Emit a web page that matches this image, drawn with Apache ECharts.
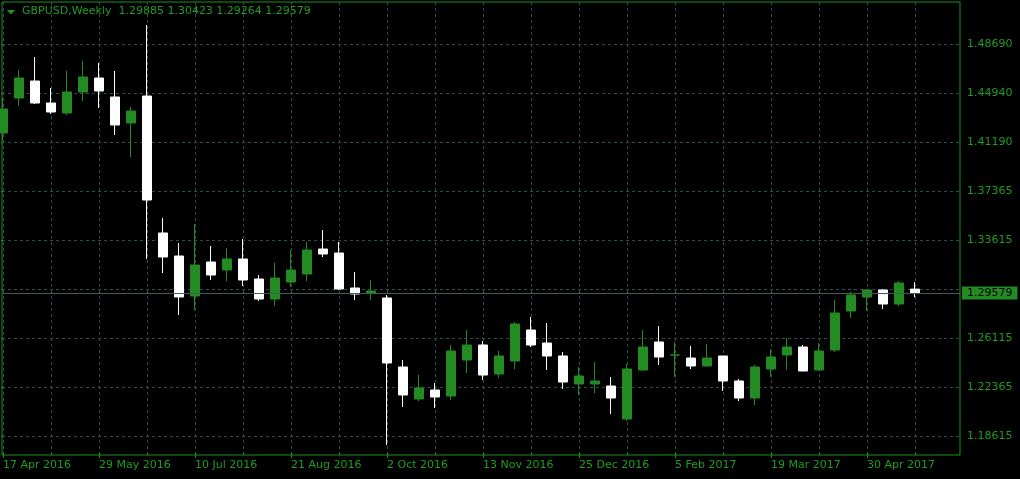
<!DOCTYPE html>
<html><head><meta charset="utf-8">
<script src="https://cdn.jsdelivr.net/npm/echarts@6/dist/echarts.min.js"></script>
<style>html,body{margin:0;padding:0;background:#000}#c{width:1020px;height:479px}</style>
</head><body><div id="c"></div>
<script>
const symbolName = 'GBPUSD';
const timeframe = 'Weekly';
const weeks = ['2016-04-17','2016-04-24','2016-05-01','2016-05-08','2016-05-15','2016-05-22','2016-05-29','2016-06-05','2016-06-12','2016-06-19',
  '2016-06-26','2016-07-03','2016-07-10','2016-07-17','2016-07-24','2016-07-31','2016-08-07','2016-08-14','2016-08-21','2016-08-28',
  '2016-09-04','2016-09-11','2016-09-18','2016-09-25','2016-10-02','2016-10-09','2016-10-16','2016-10-23','2016-10-30','2016-11-06',
  '2016-11-13','2016-11-20','2016-11-27','2016-12-04','2016-12-11','2016-12-18','2016-12-25','2017-01-01','2017-01-08','2017-01-15',
  '2017-01-22','2017-01-29','2017-02-05','2017-02-12','2017-02-19','2017-02-26','2017-03-05','2017-03-12','2017-03-19','2017-03-26',
  '2017-04-02','2017-04-09','2017-04-16','2017-04-23','2017-04-30','2017-05-07','2017-05-14','2017-05-21'];
const opens = [1.41862,1.44547,1.45851,1.44163,1.43396,1.45007,1.46082,1.44624,1.42629,1.44700,
  1.34190,1.32425,1.29356,1.31965,1.31351,1.32195,1.30660,1.29126,1.30430,1.31044,
  1.32962,1.32655,1.29970,1.29586,1.29203,1.23909,1.21454,1.22144,1.21684,1.24446,
  1.25597,1.23372,1.24369,1.26748,1.25750,1.24753,1.22605,1.22605,1.22451,1.19919,
  1.23679,1.25827,1.24830,1.24599,1.23986,1.24753,1.22835,1.21530,1.23755,1.24830,
  1.25443,1.23679,1.25213,1.28205,1.29279,1.29816,1.28742,1.29885];
const closes = [1.43703,1.46082,1.44163,1.43473,1.45007,1.46158,1.45084,1.42476,1.43550,1.36721,
  1.32348,1.29279,1.31734,1.30967,1.32195,1.30584,1.29126,1.30737,1.31351,1.32885,
  1.32578,1.29893,1.29510,1.29740,1.24216,1.21761,1.22298,1.21607,1.25136,1.25597,
  1.23295,1.24753,1.27208,1.25597,1.24753,1.22758,1.23218,1.22835,1.21530,1.23755,
  1.25443,1.24676,1.24830,1.23986,1.24599,1.22835,1.21530,1.23909,1.24676,1.25443,
  1.23602,1.25136,1.28052,1.29433,1.29816,1.28742,1.30353,1.29579];
const lows = [1.41271,1.43933,1.44087,1.43320,1.43243,1.44317,1.43780,1.41708,1.40020,1.32195,
  1.31121,1.27898,1.28282,1.30584,1.30507,1.30123,1.28972,1.28589,1.30047,1.30507,
  1.32348,1.29816,1.29049,1.29049,1.17925,1.20840,1.21300,1.20763,1.21377,1.23448,
  1.22911,1.23065,1.23755,1.25443,1.23679,1.22221,1.21761,1.21914,1.20303,1.19766,
  1.23602,1.24062,1.23142,1.23755,1.23909,1.22068,1.21300,1.20993,1.23142,1.23679,
  1.23602,1.23602,1.25060,1.27668,1.28205,1.28359,1.28589,1.29264];
const highs = [1.44547,1.46695,1.47693,1.45314,1.46619,1.47386,1.47232,1.46619,1.43857,1.50148,
  1.35340,1.33422,1.34880,1.33192,1.33039,1.33729,1.30967,1.31888,1.32885,1.33499,
  1.34420,1.33499,1.31197,1.30584,1.29433,1.24446,1.23295,1.22681,1.25597,1.26748,
  1.25904,1.25136,1.27361,1.27745,1.27285,1.25060,1.23909,1.24292,1.23142,1.24139,
  1.26748,1.27054,1.25827,1.25520,1.25673,1.24753,1.22988,1.24062,1.25290,1.26134,
  1.25597,1.25750,1.29049,1.29663,1.29893,1.29893,1.30507,1.30423];
// grid levels; the 1.29865 level's label is hidden behind the current-price box
const yTickValues = [1.48690,1.44940,1.41190,1.37365,1.33615,1.29865,1.26115,1.22365,1.18615];
const yLabelValues = [1.48690,1.44940,1.41190,1.37365,1.33615,1.26115,1.22365,1.18615];
const yTickLabels = ['1.48690','1.44940','1.41190','1.37365','1.33615','1.26115','1.22365','1.18615'];
const xLabelIndex = [0,6,12,18,24,30,36,42,48,54];
const xLabels = ['17 Apr 2016','29 May 2016','10 Jul 2016','21 Aug 2016','2 Oct 2016','13 Nov 2016','25 Dec 2016','5 Feb 2017','19 Mar 2017','30 Apr 2017'];
const xGridIndex = [0,3,6,9,12,15,18,21,24,27,30,33,36,39,42,45,48,51,54,57];

const last = weeks.length - 1;
const headerText = symbolName + ',' + timeframe + '  ' +
  [opens[last], highs[last], lows[last], closes[last]].map(v => v.toFixed(5)).join(' ');
const lastClose = closes[last];

const TXT = '#239b23', FRAME = '#1e8e1e', BULL = '#228b22', BEAR = '#ffffff', GRID = '#2f4f4f';
const FONT = 'DejaVu Sans';

const candles = weeks.map((w, i) => [i, opens[i], closes[i], lows[i], highs[i]]);

const chart = echarts.init(document.getElementById('c'), null, {renderer: 'canvas'});
chart.setOption({
  backgroundColor: '#000000',
  animation: false,
  grid: {left: 2, right: 60, top: 2, bottom: 24, show: true, borderColor: FRAME, borderWidth: 1, backgroundColor: 'transparent'},
  xAxis: [{
    type: 'value', min: -0.0625, max: 59.8125, position: 'bottom',
    axisLine: {show: false},
    axisTick: {show: true, inside: true, length: 3, lineStyle: {color: FRAME}, customValues: xGridIndex},
    axisLabel: {show: true, customValues: xLabelIndex, color: TXT, fontFamily: FONT, fontSize: 11, align: 'left', margin: 5,
      formatter: v => { const k = xLabelIndex.indexOf(Math.round(v)); return k >= 0 ? xLabels[k] : ''; }},
    splitLine: {show: true, lineStyle: {color: GRID, type: [3, 3], width: 1}}
  }, {
    type: 'value', min: -0.0625, max: 59.8125, position: 'top', offset: -453,
    axisLine: {show: false},
    axisTick: {show: true, inside: true, length: 3, lineStyle: {color: FRAME}, customValues: xLabelIndex},
    axisLabel: {show: false},
    splitLine: {show: false}
  }],
  yAxis: {
    type: 'value', position: 'right', min: 1.171573, max: 1.519123, scale: true,
    axisLine: {show: false},
    axisTick: {show: true, inside: true, length: 2, lineStyle: {color: FRAME}, customValues: yTickValues},
    axisLabel: {show: true, customValues: yLabelValues, color: TXT, fontFamily: FONT, fontSize: 11, margin: 7,
      formatter: v => { let k = -1; yLabelValues.forEach((t, j) => { if (Math.abs(t - v) < 1e-7) k = j; }); return k >= 0 ? yTickLabels[k] : ''; }},
    splitLine: {show: true, lineStyle: {color: GRID, type: [3, 3], width: 1}}
  },
  series: [{
    type: 'candlestick',
    xAxisIndex: 0,
    data: candles,
    encode: {x: 0, y: [1, 2, 3, 4]},
    barWidth: 10,
    itemStyle: {color: BULL, color0: BEAR, borderColor: BULL, borderColor0: BEAR, borderWidth: 1},
    markLine: {
      silent: true, symbol: ['none', 'none'], animation: false, precision: 5,
      lineStyle: {color: '#415a5a', type: 'solid', width: 1},
      label: {show: true, position: 'end', distance: 2, formatter: () => lastClose.toFixed(5),
        color: '#000000', backgroundColor: BULL, fontFamily: FONT, fontSize: 11, lineHeight: 13,
        padding: [0, 5, 0, 5]},
      data: [{yAxis: lastClose}]
    }
  }],
  graphic: [
    {type: 'polygon', shape: {points: [[7, 10], [15, 10], [11, 14.5]]}, style: {fill: TXT}},
    {type: 'text', left: 22, top: 6, style: {text: headerText, fill: TXT, font: '11px "DejaVu Sans"'}}
  ]
});
</script>
</body></html>
